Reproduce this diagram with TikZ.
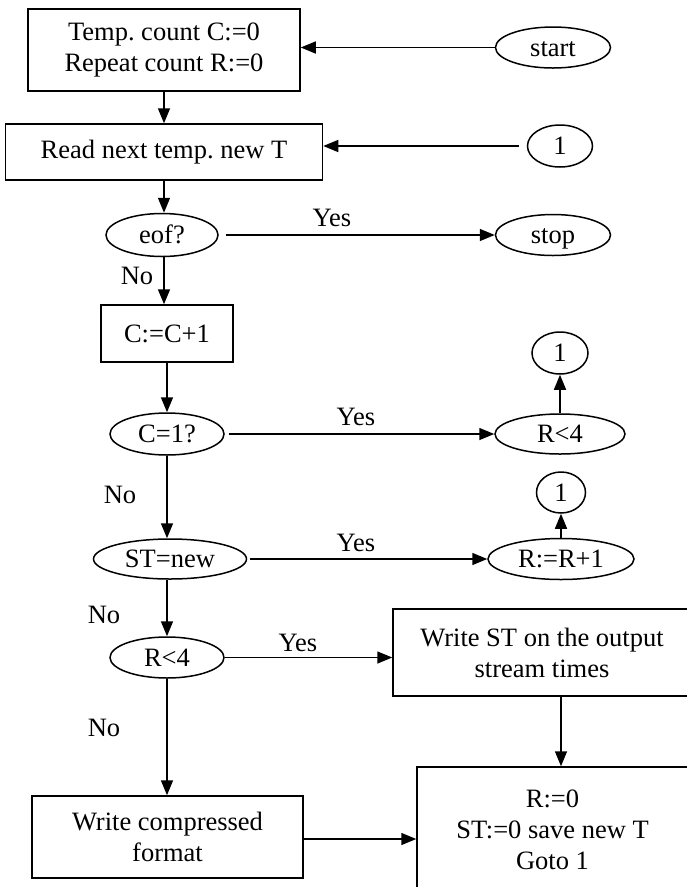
\documentclass[tikz,border=0pt]{standalone}
\usepackage{fontspec}
\setmainfont{Liberation Serif}
\frenchspacing
\usetikzlibrary{arrows.meta,shapes.geometric,calc}

\begin{document}
\begin{tikzpicture}[x=1pt, y=-1pt,
            every node/.style={font=\fontsize{26.5}{31}\selectfont},
            box/.style={draw, line width=1.5pt, rectangle, inner sep=0pt, align=center},
            oval/.style={draw, line width=1.5pt, ellipse, inner sep=0pt, text height=17pt, text depth=0pt},
            arr/.style={draw, line width=1.5pt, -{Triangle[length=15pt,width=12pt]}}]
        \useasboundingbox (0,0) rectangle (687,887);
        \clip (0,0) rectangle (687,887);
        % main column
        \node[box, minimum width=272, minimum height=82] (init) at (164,50) {Temp. count C:=0\\Repeat count R:=0};
        \node[box, minimum width=317, minimum height=56] (read) at (164,152) {Read next temp. new T};
        \node[oval, minimum width=112, minimum height=43] (eof) at (162,235) {eof?};
        \node[box, minimum width=132, minimum height=57] (cc) at (167,333.5) {C:=C+1};
        \node[oval, minimum width=114, minimum height=42] (cone) at (167,434) {C=1?};
        \node[oval, minimum width=153, minimum height=40] (st) at (170,559) {ST=new};
        \node[oval, minimum width=114, minimum height=41] (rlow) at (167,657.5) {R<4};
        \node[box, minimum width=271, minimum height=82] (comp) at (167.5,837) {Write compressed\\format};
        % right column
        \node[oval, minimum width=115, minimum height=41] (start) at (553,47.5) {start};
        \node[oval, minimum width=65, minimum height=42] (onea) at (560,146) {1};
        \node[oval, minimum width=115, minimum height=41] (stop) at (553,235) {stop};
        \node[oval, minimum width=56, minimum height=42] (oneb) at (560,353) {1};
        \node[oval, minimum width=130, minimum height=40] (rup) at (560,434) {R<4};
        \node[oval, minimum width=49, minimum height=41] (onec) at (561,492.5) {1};
        \node[oval, minimum width=146, minimum height=41] (rinc) at (561,559) {R:=R+1};
        \node[box, minimum width=298, minimum height=87] (wst) at (542,652.5) {Write ST on the output\\stream times};
        \node[box, minimum width=271, minimum height=125] (fin) at (552.5,829.5) {R:=0\\ST:=0 save new T\\Goto 1};
        % labels
        \node (yes1) at (332,218) {Yes};
        \node (yes2) at (356,417) {Yes};
        \node (yes3) at (356,543) {Yes};
        \node (yes4) at (298,643) {Yes};
        \node (no1) at (137,276) {No};
        \node (no2) at (120,495) {No};
        \node (no3) at (104,615) {No};
        \node (no4) at (104,728) {No};
        % connectors
        \draw[arr] (start) -- (init.east |- start);
        \draw[arr, shorten <=8pt] (onea) -- (read.east |- onea);
        \draw[arr] (init.south) -- (init.south |- read.north);
        \draw[arr] (read.south) -- (read.south |- eof.north);
        \draw[arr, shorten <=7pt] (eof) -- (stop);
        \draw[arr] (eof.south -| init.south) -- (init.south |- cc.north);
        \draw[arr] (cc.south) -- (cc.south |- cone.north);
        \draw[arr, shorten <=4pt] (cone) -- (rup);
        \draw[arr] (rup) -- (oneb);
        \draw[arr] (cone.south) -- (cone.south |- st.north);
        \draw[arr, shorten <=3pt] (st) -- (rinc);
        \draw[arr] (rinc) -- (onec);
        \draw[arr] (st.south -| cone.south) -- (cone.south |- rlow.north);
        \draw[arr] (rlow) -- (rlow -| wst.west);
        \draw[arr] (rlow.south) -- (rlow.south |- comp.north);
        \draw[arr] ([xshift=19pt]wst.south) -- ([xshift=19pt]wst.south |- fin.north);
        \draw[arr] (comp.east |- 0,839) -- (fin.west |- 0,839);
\end{tikzpicture}
\end{document}
